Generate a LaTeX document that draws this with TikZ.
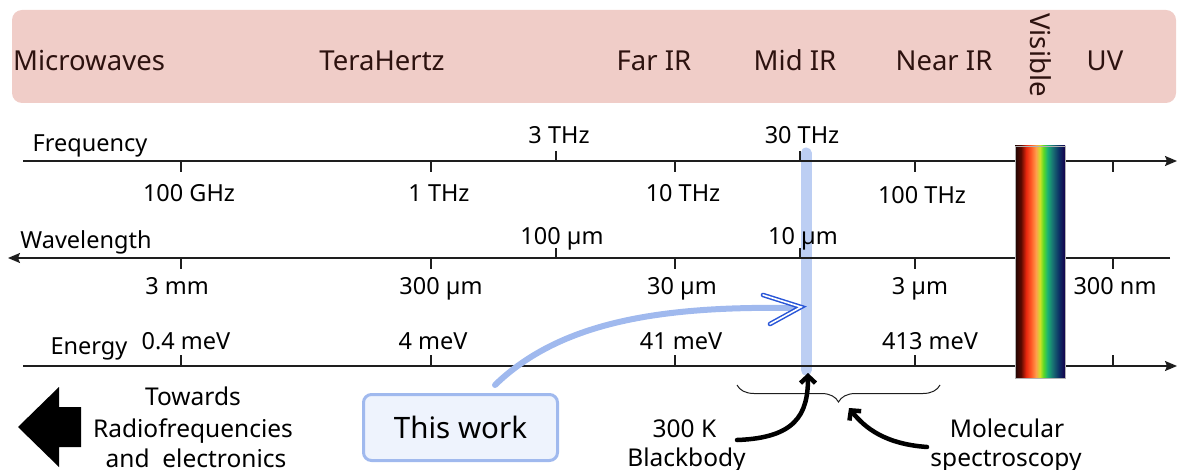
\documentclass[tikz,border=0pt]{standalone}
\usepackage{fontspec}
\setmainfont{Noto Sans}
\usetikzlibrary{arrows.meta,decorations.pathreplacing}

\definecolor{bandfill}{RGB}{240,205,200}
\definecolor{bandtext}{RGB}{45,18,15}
\definecolor{axisgray}{RGB}{30,30,30}
\definecolor{barblue}{RGB}{188,206,243}
\definecolor{curveblue}{RGB}{160,185,238}
\definecolor{tipblue}{RGB}{40,85,215}
\definecolor{boxfill}{RGB}{238,243,253}
\definecolor{boxline}{RGB}{160,185,238}

% visible spectrum, left (long wavelengths) to right; the path covers 25bp--75bp
\pgfdeclarehorizontalshading{visspec}{100bp}{
  rgb(0bp)=(0.12,0.02,0.02);
  rgb(25bp)=(0.12,0.02,0.02);
  rgb(31bp)=(0.35,0.04,0.00);
  rgb(36bp)=(0.90,0.15,0.05);
  rgb(41bp)=(1.00,0.35,0.15);
  rgb(46bp)=(1.00,0.62,0.30);
  rgb(50bp)=(0.80,0.88,0.15);
  rgb(53.5bp)=(0.35,0.85,0.15);
  rgb(57.5bp)=(0.10,0.70,0.45);
  rgb(62.5bp)=(0.10,0.45,0.45);
  rgb(68.5bp)=(0.05,0.20,0.40);
  rgb(75bp)=(0.08,0.00,0.30);
  rgb(100bp)=(0.08,0.00,0.30)}

\begin{document}
\begin{tikzpicture}[x=1pt,y=-1pt,
  axis/.style={draw=axisgray,line width=1.4pt},
  tick/.style={draw=axisgray,line width=1.2pt},
  band/.style={font=\fontsize{27.5}{32}\selectfont,text=bandtext,anchor=base,inner sep=0pt},
  lbl/.style={font=\fontsize{23.5}{28}\selectfont,anchor=base,inner sep=0pt},
  note/.style={font=\fontsize{24.5}{30}\selectfont,anchor=base,inner sep=0pt},
  bigarrow/.style={-{Straight Barb[length=7pt,width=15pt]},line width=4.5pt,line cap=round},
  axtip/.style={-{Stealth[length=12pt,width=10pt,inset=2pt]}}
]
\useasboundingbox (0,0) rectangle (1177,470);

% spectral regions banner
\fill[bandfill, rounded corners=10pt] (12,10) rectangle (1176,103);
\node[band] (mw) at (89,71) {Microwaves};
\node[band] (thz) at (382,71) {TeraHertz};
\node[band] (fir) at (654,71) {Far IR};
\node[band] (mir) at (795,71) {Mid IR};
\node[band] (nir) at (944,71) {Near IR};
\node[band, rotate=-90, anchor=center] (vis) at (1041,55) {Visible};
\node[band] (uv) at (1105,71) {UV};

% 10 um marker (behind the axes and labels)
\coordinate (barTop) at (806,153);
\coordinate (barBot) at (806,370);
\draw[barblue, line width=11pt, line cap=round] (barTop) -- (barBot);

% frequency axis
\draw[axis,axtip] (23,161) -- (1177,161);
\foreach \x in {181,431,675,915,1113} \draw[tick] (\x,161) -- (\x,172);
\foreach \x in {556,800} \draw[tick] (\x,151) -- (\x,161);
\node[lbl] (flab) at (90,152) {Frequency};
\node[lbl] (f3t) at (559,144) {3 THz};
\node[lbl] (f30t) at (802,144) {30 THz};
\node[lbl] (f100g) at (189,202) {100 GHz};
\node[lbl] (f1t) at (439,202) {1 THz};
\node[lbl] (f10t) at (683,202) {10 THz};
\node[lbl] (f100t) at (922,204) {100 THz};

% wavelength axis
\draw[axis,axtip] (1170,258) -- (8,258);
\foreach \x in {181,431,675,915,1113} \draw[tick] (\x,258) -- (\x,269);
\foreach \x in {556,800} \draw[tick] (\x,248) -- (\x,258);
\node[lbl] (wlab) at (86,249) {Wavelength};
\node[lbl] (w100u) at (562,244) {100 µm};
\node[lbl] (w10u) at (803,244) {10 µm};
\node[lbl] (w3m) at (177,294) {3 mm};
\node[lbl] (w300u) at (441,294) {300 µm};
\node[lbl] (w30u) at (682,294) {30 µm};
\node[lbl] (w3u) at (920,294) {3 µm};
\node[lbl] (w300n) at (1115,294) {300 nm};

% energy axis
\draw[axis,axtip] (23,366) -- (1177,366);
\foreach \x in {181,431,675,915,1113} \draw[tick] (\x,355) -- (\x,366);
\node[lbl] (elab) at (89,354) {Energy};
\node[lbl] (e04) at (186,349) {0.4 meV};
\node[lbl] (e4) at (433,349) {4 meV};
\node[lbl] (e41) at (681,349) {41 meV};
\node[lbl] (e413) at (930,349) {413 meV};

% visible band
\shadedraw[shading=visspec, draw=gray!60, line width=0.6pt] (1015,146) rectangle (1065,378);

% molecular fingerprint range
\draw[axisgray, line width=1pt, decorate, decoration={brace, amplitude=17pt, mirror}] (737,385) -- (940,385);

% towards radiofrequencies
\fill[black] (18,427) -- (59,387) -- (59,407) -- (81,407) -- (81,447) -- (59,447) -- (59,467) -- cycle;
\node[note] (tw1) at (193,405) {Towards};
\node[note] (tw2) at (193,437) {Radiofrequencies};
\node[note] (tw3) at (196,467) {and\ \ electronics};

% this work
\node[draw=boxline, fill=boxfill, line width=3pt, rounded corners=8pt,
      minimum width=194pt, minimum height=66pt, inner sep=0pt,
      font=\fontsize{29.5}{34}\selectfont] (box) at (460.5,427.5) {This work};
\coordinate (twstart) at (495,385);
\coordinate (twend) at (792,308);
\draw[curveblue, line width=6pt, line cap=round] (twstart) .. controls (560,322) and (660,306) .. (twend);
\draw[tipblue, line width=1.5pt, double=white, double distance=1.6pt, line join=miter, line cap=round]
  (763,295) -- (801,307) -- (770,324);

% blackbody
\node[note] (bb1) at (684.5,437) {300 K};
\node[note] (bb2) at (686.5,466) {Blackbody};
\coordinate (bbstart) at (737,440);
\coordinate (bbtip) at (808,373);
\draw[bigarrow] (bbstart) .. controls (795,438) and (808,415) .. (bbtip);

% molecular spectroscopy
\node[note] (ms1) at (1007,437) {Molecular};
\node[note] (ms2) at (1006,466) {spectroscopy};
\coordinate (msstart) at (927,447);
\coordinate (mstip) at (849,408);
\draw[bigarrow] (msstart) .. controls (885,444) and (865,428) .. (mstip);
\end{tikzpicture}
\end{document}
